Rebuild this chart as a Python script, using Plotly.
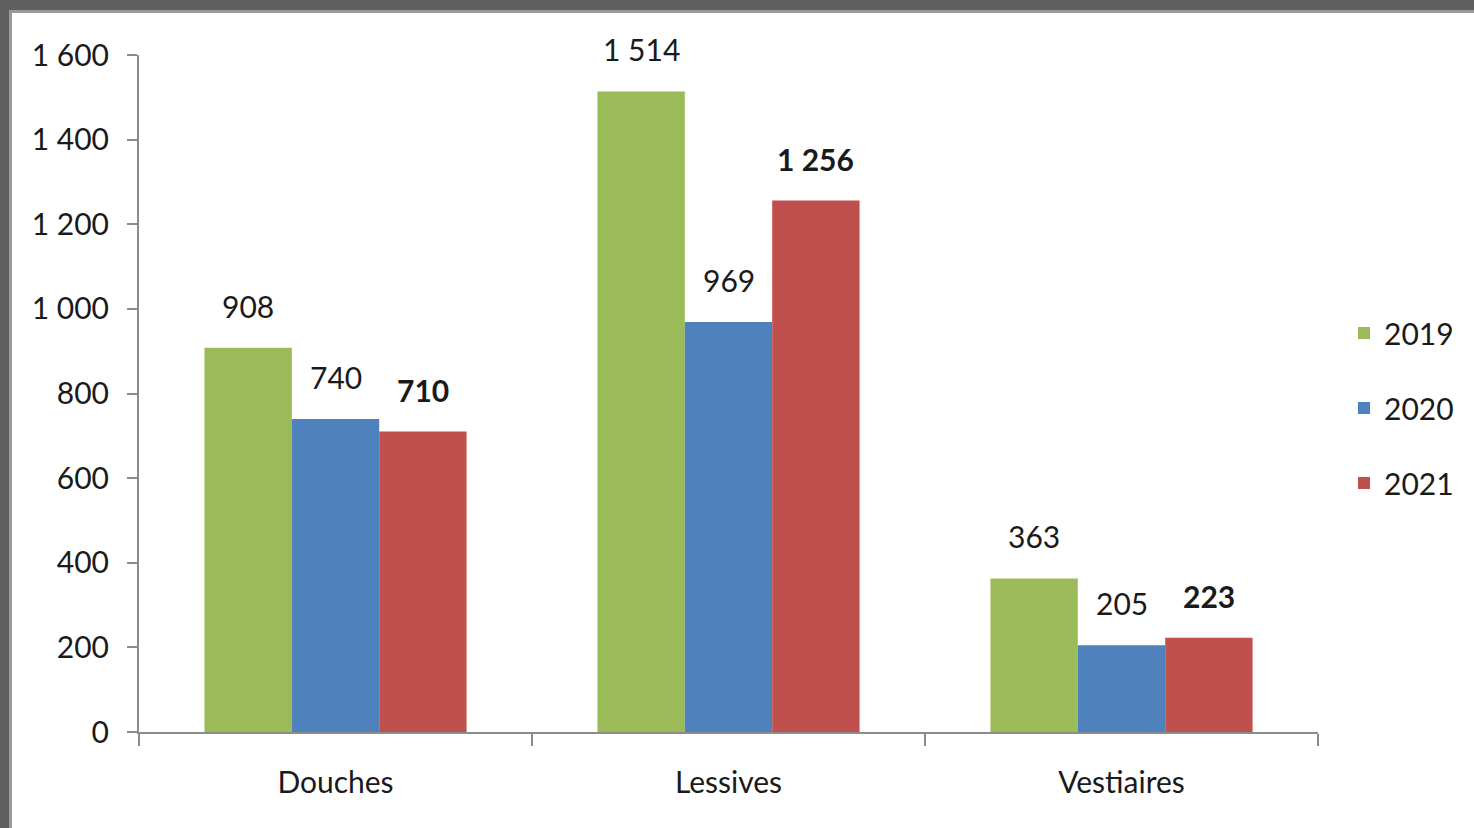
import plotly.graph_objects as go

categories = ["Douches", "Lessives", "Vestiaires"]
years = ["2019", "2020", "2021"]
values_2019 = [908, 1514, 363]
values_2020 = [740, 969, 205]
values_2021 = [710, 1256, 223]
series = [values_2019, values_2020, values_2021]
colors = ["#9BBB59", "#4F81BD", "#C0504D"]
bold_flags = [False, False, True]

W, H = 1474, 828
L, R, T, B = 139, 156, 55, 96
pw, ph = W - L - R, H - T - B
FONT = "Lato"
TXT = "#1a1a1a"
FS = 30

def fx(p):
    return (p - L) / pw

def fy(p):
    return 1 - (p - T) / ph

fig = go.Figure()
for name, vals, col in zip(years, series, colors):
    fig.add_trace(go.Bar(x=categories, y=vals, name=name, marker=dict(color=col, line=dict(width=0)),
                         legendgroup=name))

bar_px = pw / 3 * (1 - 0.333) / 3
annotations = []
for i, (vals, bold) in enumerate(zip(series, bold_flags)):
    for c, v in zip(categories, vals):
        s = f"{v:,}".replace(",", " ")
        if bold:
            s = f"<b>{s}</b>"
        annotations.append(dict(x=c, y=v, xref="x", yref="y", text=s, showarrow=False,
                                xshift=(i - 1) * bar_px, yanchor="bottom", yshift=22,
                                font=dict(family=FONT, size=FS, color=TXT)))

shapes = [
    dict(type="rect", xref="paper", yref="paper", x0=fx(0), x1=fx(W), y0=fy(0), y1=fy(10),
         fillcolor="#5f5f5f", line=dict(width=0), layer="below"),
    dict(type="rect", xref="paper", yref="paper", x0=fx(0), x1=fx(9), y0=fy(0), y1=fy(H),
         fillcolor="#5f5f5f", line=dict(width=0), layer="below"),
    dict(type="rect", xref="paper", yref="paper", x0=fx(9), x1=fx(W), y0=fy(10), y1=fy(13),
         fillcolor="#9a9a9a", line=dict(width=0), layer="below"),
    dict(type="rect", xref="paper", yref="paper", x0=fx(9), x1=fx(12), y0=fy(10), y1=fy(H),
         fillcolor="#9a9a9a", line=dict(width=0), layer="below"),
]

fig.update_layout(
    width=W, height=H, autosize=False,
    margin=dict(l=L, r=R, t=T, b=B, pad=0),
    paper_bgcolor="white", plot_bgcolor="white",
    barmode="group", bargap=0.333, bargroupgap=0,
    separators=", ",
    font=dict(family=FONT, size=FS, color=TXT),
    showlegend=True,
    legend=dict(x=fx(1344), xanchor="left", y=fy(307), yanchor="top",
                font=dict(family=FONT, size=FS, color=TXT), tracegroupgap=33,
                itemwidth=30, bgcolor="rgba(0,0,0,0)"),
    annotations=annotations,
    shapes=shapes,
)
fig.update_xaxes(showline=True, linecolor="#8c8c8c", linewidth=2, ticks="outside", ticklen=12,
                 tickcolor="#8c8c8c", tickwidth=2, tickson="boundaries", ticklabelstandoff=23,
                 tickfont=dict(family=FONT, size=FS, color=TXT), showgrid=False, zeroline=False)
fig.update_yaxes(range=[0, 1600], tickvals=[0, 200, 400, 600, 800, 1000, 1200, 1400, 1600],
                 tickformat=",d", showline=True, linecolor="#8c8c8c", linewidth=2,
                 ticks="outside", ticklen=10, tickcolor="#8c8c8c", tickwidth=2, ticklabelstandoff=12,
                 tickfont=dict(family=FONT, size=FS, color=TXT), showgrid=False, zeroline=False)

fig.write_html("out.html", config={"displayModeBar": False},
               post_script="document.body.style.margin='0px';")
